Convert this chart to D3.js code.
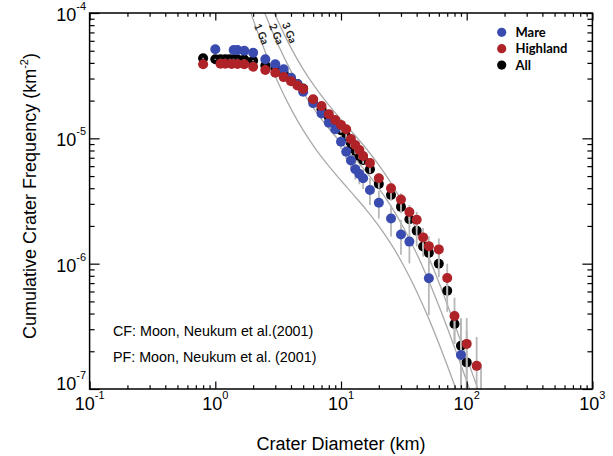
<!DOCTYPE html>
<html lang="en">
<head>
<meta charset="UTF-8">
<title>Cumulative Crater Frequency</title>
<script src="https://d3js.org/d3.v7.min.js"></script>
<style>
  body { margin: 0; background: #fff; }
  svg { display: block; }
  text { font-family: "Liberation Sans", Arial, Helvetica, sans-serif; fill: #000; }
  .bold { font-family: Lato, "Open Sans", sans-serif; font-weight: 700; }
</style>
</head>
<body>
<div id="chart"></div>
<script>
// crater diameter (km) and cumulative frequency (km^-2), relative error
const mareD = [1.0, 1.4, 1.5, 1.7, 2.0, 2.5, 3.0, 3.5, 4.0, 4.5, 5.0, 6.0, 7.0, 8.0, 9.0, 10, 11, 12, 13, 14, 15, 17, 20, 25, 30, 35, 50, 90];
const mareN = [5.13e-5, 5.07e-5, 5.07e-5, 5.00e-5, 4.82e-5, 4.27e-5, 3.90e-5, 3.56e-5, 3.05e-5, 2.71e-5, 2.35e-5, 1.91e-5, 1.58e-5, 1.33e-5, 1.18e-5, 9.39e-6, 7.82e-6, 6.65e-6, 5.66e-6, 5.19e-6, 4.80e-6, 3.87e-6, 3.06e-6, 2.29e-6, 1.71e-6, 1.50e-6, 7.64e-7, 1.87e-7];
const mareErr = [0.01, 0.01, 0.01, 0.01, 0.015, 0.02, 0.02, 0.025, 0.03, 0.03, 0.035, 0.04, 0.05, 0.06, 0.07, 0.12, 0.13, 0.15, 0.17, 0.17, 0.18, 0.24, 0.25, 0.28, 0.31, 0.33, 0.49, 0.95];

const highD = [0.8, 1.1, 1.2, 1.35, 1.5, 1.7, 2.0, 2.5, 3.0, 3.5, 4.0, 4.5, 5.0, 6.0, 7.0, 8.0, 9.0, 10, 11, 12, 13, 14, 15, 17, 20, 25, 30, 35, 40, 45, 50, 60, 70, 80, 100, 120];
const highN = [3.90e-5, 3.93e-5, 3.93e-5, 3.92e-5, 3.92e-5, 3.90e-5, 3.73e-5, 3.51e-5, 3.34e-5, 3.08e-5, 2.86e-5, 2.64e-5, 2.48e-5, 2.05e-5, 1.81e-5, 1.56e-5, 1.40e-5, 1.28e-5, 1.18e-5, 9.88e-6, 8.85e-6, 8.07e-6, 7.23e-6, 6.36e-6, 4.80e-6, 3.99e-6, 3.25e-6, 2.58e-6, 2.24e-6, 1.62e-6, 1.38e-6, 1.30e-6, 7.69e-7, 3.82e-7, 2.29e-7, 1.53e-7];
const highErr = [0.01, 0.01, 0.01, 0.01, 0.01, 0.01, 0.01, 0.015, 0.015, 0.02, 0.02, 0.02, 0.025, 0.03, 0.03, 0.035, 0.04, 0.05, 0.05, 0.055, 0.06, 0.06, 0.065, 0.07, 0.09, 0.1, 0.12, 0.14, 0.16, 0.19, 0.2, 0.22, 0.3, 0.4, 0.61, 0.7];

const allD = [0.8, 1.0, 1.1, 1.2, 1.3, 1.4, 1.5, 1.7, 2.0, 2.5, 3.0, 3.5, 4.0, 4.5, 5.0, 6.0, 7.0, 8.0, 9.0, 10, 11, 12, 13, 14, 15, 17, 20, 25, 30, 35, 40, 45, 50, 60, 70, 80, 90, 100, 130];
const allN = [4.35e-5, 4.27e-5, 4.27e-5, 4.27e-5, 4.27e-5, 4.27e-5, 4.27e-5, 4.25e-5, 4.16e-5, 3.81e-5, 3.61e-5, 3.32e-5, 2.97e-5, 2.71e-5, 2.50e-5, 2.02e-5, 1.71e-5, 1.48e-5, 1.32e-5, 1.16e-5, 1.04e-5, 9.01e-6, 7.93e-6, 7.23e-6, 6.71e-6, 5.66e-6, 4.32e-6, 3.53e-6, 2.84e-6, 2.26e-6, 1.83e-6, 1.37e-6, 1.22e-6, 1.00e-6, 6.08e-7, 3.30e-7, 2.21e-7, 1.63e-7, 8.5e-8];
const allErr = [0.01, 0.01, 0.01, 0.01, 0.01, 0.01, 0.01, 0.01, 0.01, 0.015, 0.015, 0.02, 0.02, 0.02, 0.025, 0.03, 0.03, 0.035, 0.04, 0.045, 0.05, 0.055, 0.06, 0.06, 0.065, 0.07, 0.08, 0.1, 0.11, 0.13, 0.25, 0.17, 0.2, 0.22, 0.32, 0.3, 0.66, 0.8, 0.85];

// isochrons (production function at 1, 2, 3 Ga)
const isoD = [1.585, 1.995, 2.512, 3.162, 3.981, 5.012, 6.310, 7.943, 10, 12.59, 15.85, 19.95, 25.12, 31.62, 39.81, 50.12, 63.10, 70.79, 79.43, 89.13, 100, 112.2, 125.9, 141.3];
const iso1Ga = [1.781e-4, 8.94e-5, 4.81e-5, 2.78e-5, 1.733e-5, 1.156e-5, 8.18e-6, 6.05e-6, 4.61e-6, 3.54e-6, 2.70e-6, 2.00e-6, 1.424e-6, 9.58e-7, 6.06e-7, 3.61e-7, 2.03e-7, 1.50e-7, 1.097e-7, 7.98e-8, 5.78e-8];
const iso2Ga = [3.56e-4, 1.789e-4, 9.62e-5, 5.57e-5, 3.47e-5, 2.31e-5, 1.635e-5, 1.209e-5, 9.21e-6, 7.09e-6, 5.40e-6, 4.01e-6, 2.85e-6, 1.917e-6, 1.213e-6, 7.22e-7, 4.06e-7, 3.00e-7, 2.19e-7, 1.596e-7, 1.156e-7, 8.38e-8];
const iso3Ga = [5.47e-4, 2.75e-4, 1.477e-4, 8.55e-5, 5.32e-5, 3.55e-5, 2.51e-5, 1.856e-5, 1.413e-5, 1.087e-5, 8.30e-6, 6.15e-6, 4.37e-6, 2.94e-6, 1.862e-6, 1.108e-6, 6.24e-7, 4.60e-7, 3.37e-7, 2.45e-7, 1.774e-7, 1.285e-7, 9.34e-8, 6.82e-8];
const isoLabels = ['1 Ga', '2 Ga', '3 Ga'];
const isoLabelD = [2.33, 3.06, 3.88];
const isoLabelN = [6.8e-5, 6.8e-5, 6.95e-5];

const xTicks = [0.1, 1, 10, 100, 1000];
const xTickExp = ['-1', '0', '1', '2', '3'];
const yTicks = [1e-7, 1e-6, 1e-5, 1e-4];
const yTickExp = ['-7', '-6', '-5', '-4'];

const legendNames = ['Mare', 'Highland', 'All'];
const colors = { Mare: '#3a4bb0', Highland: '#ae2228', All: '#000000' };

const W = 613, H = 456;
const plot = { left: 89.6, right: 592.4, top: 13, bottom: 389 };

const x = d3.scaleLog().domain([0.1, 1000]).range([plot.left, plot.right]);
const y = d3.scaleLog().domain([1e-7, 1e-4]).range([plot.bottom, plot.top]);

const svg = d3.select('#chart').append('svg').attr('width', W).attr('height', H);

svg.append('defs').append('clipPath').attr('id', 'plotClip')
  .append('rect')
  .attr('x', plot.left).attr('y', plot.top)
  .attr('width', plot.right - plot.left).attr('height', plot.bottom - plot.top);

const body = svg.append('g').attr('clip-path', 'url(#plotClip)');

// isochron curves
const line = d3.line().x(d => x(d[0])).y(d => y(d[1])).curve(d3.curveMonotoneX);
[iso1Ga, iso2Ga, iso3Ga].forEach(arr => {
  body.append('path')
    .datum(arr.map((n, i) => [isoD[i], n]))
    .attr('d', line)
    .attr('fill', 'none')
    .attr('stroke', '#aaaaaa')
    .attr('stroke-width', 1.3);
});

isoLabels.forEach((lab, i) => {
  svg.append('text')
    .attr('class', 'bold')
    .attr('transform', `translate(${x(isoLabelD[i])},${y(isoLabelN[i])}) rotate(67)`)
    .attr('text-anchor', 'middle')
    .attr('dy', '0.35em')
    .style('font-size', '10.5px')
    .style('fill', '#222')
    .text(lab);
});

const toPts = (D, N, E) => D.map((d, i) => ({ d: d, n: N[i], e: E[i] }));
const mare = toPts(mareD, mareN, mareErr);
const high = toPts(highD, highN, highErr);
const all = toPts(allD, allN, allErr);

const R = 5;
function dots(data, color) {
  body.append('g').selectAll('circle')
    .data(data).join('circle')
    .attr('cx', p => x(p.d))
    .attr('cy', p => y(p.n))
    .attr('r', R)
    .attr('fill', color);
}
function bars(data) {
  body.append('g').selectAll('line')
    .data(data).join('line')
    .attr('x1', p => x(p.d)).attr('x2', p => x(p.d))
    .attr('y1', p => y(p.n * (1 + p.e)))
    .attr('y2', p => y(Math.max(p.n * (1 - p.e), 1e-9)))
    .attr('stroke', '#b8b8b8')
    .attr('stroke-width', 1.8);
}

dots(all, colors.All);
bars(all);
bars(mare);
bars(high);
dots(mare, colors.Mare);
dots(high, colors.Highland);

// axes: ticks on all four sides, pointing inward
const minorX = x.ticks().filter(v => !xTicks.includes(v));
const minorY = y.ticks().filter(v => !yTicks.some(t => Math.abs(t - v) / t < 1e-6));

function axis(gen, scale, vals, size, tr) {
  const g = svg.append('g').attr('transform', tr)
    .call(gen(scale).tickValues(vals).tickSize(size).tickSizeOuter(0).tickFormat(''));
  g.select('.domain').remove();
  g.selectAll('line').attr('stroke', '#000').attr('stroke-width', 1.2);
}
axis(d3.axisBottom, x, xTicks, -7.5, `translate(0,${plot.bottom})`);
axis(d3.axisBottom, x, minorX, -3.8, `translate(0,${plot.bottom})`);
axis(d3.axisTop, x, xTicks, -7.5, `translate(0,${plot.top})`);
axis(d3.axisTop, x, minorX, -3.8, `translate(0,${plot.top})`);
axis(d3.axisLeft, y, yTicks, -10, `translate(${plot.left},0)`);
axis(d3.axisLeft, y, minorY, -5, `translate(${plot.left},0)`);
axis(d3.axisRight, y, yTicks, -10, `translate(${plot.right},0)`);
axis(d3.axisRight, y, minorY, -5, `translate(${plot.right},0)`);

svg.append('rect')
  .attr('x', plot.left).attr('y', plot.top)
  .attr('width', plot.right - plot.left).attr('height', plot.bottom - plot.top)
  .attr('fill', 'none').attr('stroke', '#000').attr('stroke-width', 1.5);

// tick labels, 10 with superscript exponent
function powLabel(px, py, exp, anchor) {
  const t = svg.append('text')
    .attr('x', px).attr('y', py)
    .attr('text-anchor', anchor)
    .style('font-size', '18px');
  t.append('tspan').text('10');
  t.append('tspan').attr('dy', -11).style('font-size', '11px').text(exp);
}
xTicks.forEach((v, i) => powLabel(x(v), 409.5, xTickExp[i], 'middle'));
yTicks.forEach((v, i) => powLabel(86, Math.min(y(v) + 8, 390), yTickExp[i], 'end'));

// axis titles
svg.append('text')
  .attr('x', (plot.left + plot.right) / 2).attr('y', 450)
  .attr('text-anchor', 'middle')
  .style('font-size', '18px')
  .text('Crater Diameter (km)');

const yt = svg.append('text')
  .attr('transform', 'translate(36,196) rotate(-90)')
  .attr('text-anchor', 'middle')
  .style('font-size', '18px');
yt.append('tspan').text('Cumulative Crater Frequency (km');
yt.append('tspan').attr('dy', -8).style('font-size', '11px').text('-2');
yt.append('tspan').attr('dy', 8).text(')');

// notes
svg.append('text').attr('x', 113).attr('y', 336)
  .style('font-size', '14.3px').text('CF: Moon, Neukum et al.(2001)');
svg.append('text').attr('x', 113).attr('y', 361.5)
  .style('font-size', '14.3px').text('PF: Moon, Neukum et al. (2001)');

// legend
const lg = svg.append('g');
legendNames.forEach((name, i) => {
  const cy = 32.3 + i * 16.4;
  lg.append('circle').attr('cx', 501.7).attr('cy', cy).attr('r', 4.6).attr('fill', colors[name]);
  lg.append('text').attr('class', 'bold')
    .attr('x', 515.5).attr('y', cy + 4.5)
    .style('font-size', '13px')
    .text(name);
});
</script>
</body>
</html>
